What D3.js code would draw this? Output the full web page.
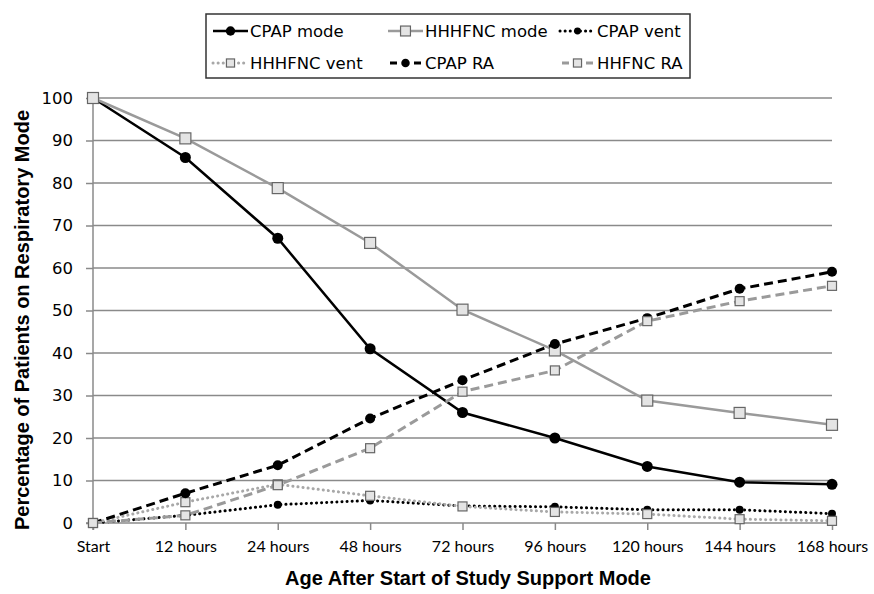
<!DOCTYPE html>
<html>
<head>
<meta charset="utf-8">
<script src="https://cdn.jsdelivr.net/npm/d3@7"></script>
<style>
    body { margin: 0; background: #fff; }
    svg { display: block; }
</style>
</head>
<body>
<div id="chart"></div>
<script>
// Chart data
const categories = ["Start", "12 hours", "24 hours", "48 hours", "72 hours", "96 hours", "120 hours", "144 hours", "168 hours"];
const yTicks = [0, 10, 20, 30, 40, 50, 60, 70, 80, 90, 100];
const seriesNames = ["CPAP mode", "HHHFNC mode", "CPAP vent", "HHHFNC vent", "CPAP RA", "HHFNC RA"];
const cpapMode = [100, 86, 67, 41, 26, 20, 13.3, 9.6, 9.1];
const hhhfncMode = [100, 90.5, 78.8, 65.9, 50.2, 40.6, 28.8, 25.9, 23.1];
const cpapVent = [0, 1.8, 4.3, 5.3, 4.0, 3.8, 3.1, 3.1, 2.2];
const hhhfncVent = [0, 4.9, 9.1, 6.4, 3.9, 2.6, 2.1, 0.9, 0.5];
const cpapRA = [0, 7.0, 13.6, 24.6, 33.6, 42.1, 48.2, 55.1, 59.1];
const hhfncRA = [0, 1.8, 8.9, 17.6, 30.9, 35.9, 47.5, 52.2, 55.8];

// Styles per series
const styles = [
    {values: cpapMode, stroke: "#000", width: 2.5, dash: null, marker: "circle", size: 5.5},
    {values: hhhfncMode, stroke: "#9a9a9a", width: 2.5, dash: null, marker: "square", size: 11},
    {values: cpapVent, stroke: "#000", width: 3, dash: "0.1,5", marker: "circle", size: 4},
    {values: hhhfncVent, stroke: "#a8a8a8", width: 3, dash: "0.1,5", marker: "square", size: 9},
    {values: cpapRA, stroke: "#000", width: 3, dash: "9,5", marker: "circle", size: 5},
    {values: hhfncRA, stroke: "#9a9a9a", width: 3, dash: "9,5", marker: "square", size: 9}
];

const width = 874, height = 594;
const plot = {left: 93, right: 832, top: 98, bottom: 523};

const svg = d3.select("#chart").append("svg")
    .attr("width", width)
    .attr("height", height);

// Set up scales
const x = d3.scalePoint().domain(categories).range([plot.left, plot.right]);
const y = d3.scaleLinear().domain([0, 100]).range([plot.bottom, plot.top]);

// Gridlines
svg.append("g")
    .selectAll("line")
    .data(yTicks.filter(d => d > 0))
    .enter().append("line")
    .attr("x1", plot.left).attr("x2", plot.right)
    .attr("y1", d => y(d)).attr("y2", d => y(d))
    .attr("stroke", "#8a8a8a")
    .attr("stroke-width", 1.5);

// Y axis
const yAxis = svg.append("g")
    .attr("transform", `translate(${plot.left},0)`)
    .call(d3.axisLeft(y).tickValues(yTicks).tickSize(7).tickPadding(13));
yAxis.select(".domain").attr("stroke", "#8a8a8a").attr("stroke-width", 1.5)
    .attr("d", `M0,${plot.top}V${plot.bottom + 7}`);
yAxis.selectAll(".tick line").attr("stroke", "#8a8a8a").attr("stroke-width", 1.5);
yAxis.selectAll(".tick text")
    .attr("font-family", "DejaVu Sans")
    .attr("font-size", 16.5)
    .attr("fill", "#000");

// X axis
const xAxis = svg.append("g")
    .attr("transform", `translate(0,${plot.bottom})`)
    .call(d3.axisBottom(x).tickSize(7).tickPadding(11));
xAxis.select(".domain").attr("stroke", "#8a8a8a").attr("stroke-width", 1.5)
    .attr("d", `M${plot.left - 7},0H${plot.right}`);
xAxis.selectAll(".tick line").attr("stroke", "#8a8a8a").attr("stroke-width", 1.5);
xAxis.selectAll(".tick text")
    .attr("font-family", "Lato")
    .attr("font-size", 16)
    .attr("fill", "#000");

// Axis titles
svg.append("text")
    .attr("x", 468)
    .attr("y", 585)
    .attr("text-anchor", "middle")
    .attr("font-family", "Liberation Sans")
    .attr("font-weight", "bold")
    .attr("font-size", 20)
    .text("Age After Start of Study Support Mode");

svg.append("text")
    .attr("transform", "translate(29,320) rotate(-90)")
    .attr("text-anchor", "middle")
    .attr("font-family", "Liberation Sans")
    .attr("font-weight", "bold")
    .attr("font-size", 20)
    .text("Percentage of Patients on Respiratory Mode");

// Line generator
const line = d3.line()
    .x((d, i) => x(categories[i]))
    .y(d => y(d));

function drawMarker(g, s, cx, cy, size) {
    if (s.marker === "circle") {
        g.append("circle")
            .attr("cx", cx).attr("cy", cy).attr("r", size)
            .attr("fill", "#000");
    } else {
        g.append("rect")
            .attr("x", cx - size / 2).attr("y", cy - size / 2)
            .attr("width", size).attr("height", size)
            .attr("fill", "#e4e4e4")
            .attr("stroke", "#666")
            .attr("stroke-width", 1.2);
    }
}

// Draw series
styles.forEach(s => {
    const g = svg.append("g");
    g.append("path")
        .datum(s.values)
        .attr("d", line)
        .attr("fill", "none")
        .attr("stroke", s.stroke)
        .attr("stroke-width", s.width)
        .attr("stroke-linecap", s.dash && s.dash.startsWith("0.1") ? "round" : "butt")
        .attr("stroke-dasharray", s.dash);
    s.values.forEach((v, i) => drawMarker(g, s, x(categories[i]), y(v), s.size));
});

// Legend
const legend = svg.append("g");
legend.append("rect")
    .attr("x", 206).attr("y", 14)
    .attr("width", 484).attr("height", 64)
    .attr("fill", "#fff")
    .attr("stroke", "#333")
    .attr("stroke-width", 1.5);

const legendCols = [213, 388, 560];
const legendRows = [31, 63];
seriesNames.forEach((name, i) => {
    const s = styles[i];
    const lx = legendCols[i % 3], ly = legendRows[Math.floor(i / 3)];
    const g = legend.append("g");
    g.append("line")
        .attr("x1", lx).attr("x2", lx + 35)
        .attr("y1", ly).attr("y2", ly)
        .attr("stroke", s.stroke)
        .attr("stroke-width", s.width)
        .attr("stroke-linecap", s.dash && s.dash.startsWith("0.1") ? "round" : "butt")
        .attr("stroke-dasharray", s.dash ? (s.dash.startsWith("0.1") ? "0.1,5" : "7,5") : null)
        .attr("stroke-dashoffset", s.dash && !s.dash.startsWith("0.1") ? -2 : 0);
    drawMarker(g, s, lx + 17.5, ly, s.marker === "circle" ? s.size * 0.85 : s.size * 0.9);
    g.append("text")
        .attr("x", lx + 37)
        .attr("y", ly)
        .attr("dy", "0.35em")
        .attr("font-family", "DejaVu Sans")
        .attr("font-size", 16.5)
        .text(name);
});
</script>
</body>
</html>
